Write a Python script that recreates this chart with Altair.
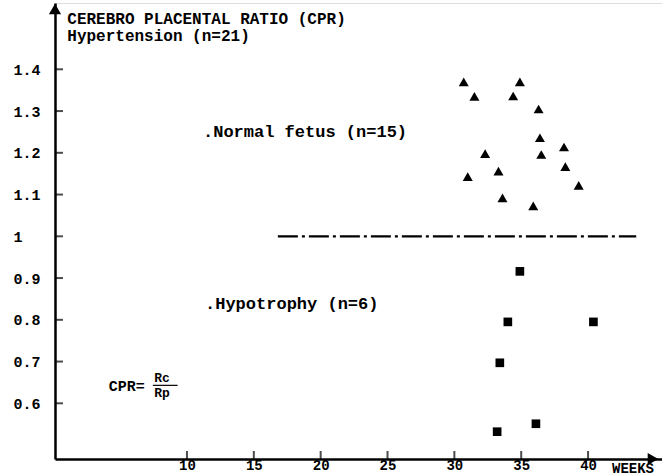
import altair as alt
import pandas as pd

# ---- data ----
normal_weeks = [30.7, 31.5, 34.9, 34.4, 36.3, 36.4, 38.2, 32.3, 36.5, 38.3, 33.3, 31.0, 39.3, 33.6, 35.9]
normal_cpr = [1.37, 1.335, 1.37, 1.336, 1.305, 1.236, 1.214, 1.198, 1.196, 1.167, 1.156, 1.143, 1.122, 1.092, 1.073]
hypo_weeks = [34.9, 34.0, 40.4, 33.4, 36.1, 33.2]
hypo_cpr = [0.916, 0.795, 0.795, 0.697, 0.551, 0.532]
ref_line_weeks = [16.8, 43.6]
ref_line_cpr = [1.0, 1.0]
y_ticks = [0.6, 0.7, 0.8, 0.9, 1.0, 1.1, 1.2, 1.3, 1.4]
x_ticks = [10, 15, 20, 25, 30, 35, 40]

X_DOM = [0.13, 45.53]
Y_DOM = [0.4666, 1.5588]

FONT = "Liberation Mono"
MARK_COLOR = "black"

xs = alt.Scale(domain=X_DOM, nice=False, zero=False)
ys = alt.Scale(domain=Y_DOM, nice=False, zero=False)

base_x_axis = alt.Axis(values=x_ticks, domainColor="black", domainWidth=2.5, ticks=False,
                       labelFont=FONT, labelFontWeight="bold", labelFontSize=14,
                       labelColor="black", labelPadding=6, labelBaseline="middle",
                       grid=False, title=None, labelFlush=False)
base_y_axis = alt.Axis(values=y_ticks, domainColor="black", domainWidth=2.5, ticks=False,
                       labelFont=FONT, labelFontWeight="bold", labelFontSize=15,
                       labelColor="black", labelAlign="left", labelPadding=42,
                       grid=False, title=None,
                       labelExpr="datum.value == 1 ? '1' : format(datum.value, '.1f')")

normal_df = pd.DataFrame({"week": normal_weeks, "cpr": normal_cpr})
hypo_df = pd.DataFrame({"week": hypo_weeks, "cpr": hypo_cpr})
line_df = pd.DataFrame({"week": ref_line_weeks, "cpr": ref_line_cpr})

axes_layer = alt.Chart(normal_df).mark_point(opacity=0).encode(
    x=alt.X("week:Q", scale=xs, axis=base_x_axis),
    y=alt.Y("cpr:Q", scale=ys, axis=base_y_axis),
)

tri = alt.Chart(normal_df).mark_point(shape="triangle-up", filled=True, color="black",
                                      size=100, opacity=1).encode(
    x=alt.X("week:Q", scale=xs), y=alt.Y("cpr:Q", scale=ys))

sq = alt.Chart(hypo_df).mark_square(color="black", size=75, opacity=1).encode(
    x=alt.X("week:Q", scale=xs), y=alt.Y("cpr:Q", scale=ys))

dash = alt.Chart(line_df).mark_line(color="black", strokeWidth=2.2,
                                    strokeDash=[20, 4, 3, 4]).encode(
    x=alt.X("week:Q", scale=xs), y=alt.Y("cpr:Q", scale=ys))

# inward tick marks
yt_df = pd.DataFrame({"v": y_ticks})
ytick = alt.Chart(yt_df).mark_tick(color=MARK_COLOR, thickness=2, size=8, orient="horizontal").encode(
    y=alt.Y("v:Q", scale=ys), x=alt.value(4))
xt_df = pd.DataFrame({"v": x_ticks})
xtick = alt.Chart(xt_df).mark_tick(color=MARK_COLOR, thickness=2, size=8, orient="vertical").encode(
    x=alt.X("v:Q", scale=xs), y=alt.value(452))

# axis arrow heads (pixel positions at the ends of the two axes)
arrow_up = alt.Chart(pd.DataFrame({"a": [1]})).mark_point(
    shape="triangle-up", filled=True, color=MARK_COLOR, size=150, opacity=1).encode(
    x=alt.value(0), y=alt.value(6))
arrow_right = alt.Chart(pd.DataFrame({"a": [2]})).mark_point(
    shape="triangle-right", filled=True, color=MARK_COLOR, size=150, opacity=1).encode(
    x=alt.value(598), y=alt.value(456))

# annotations
labels = ["CEREBRO PLACENTAL RATIO (CPR)", "Hypertension (n=21)", ".Normal fetus (n=15)",
          ".Hypotrophy (n=6)", "CPR=", "Rc", "Rp"]
lab_x = [1.05, 1.05, 11.2, 11.35, 4.15, 7.55, 7.55]
lab_y = [1.520, 1.480, 1.250, 0.838, 0.642, 0.661, 0.624]
lab_size = [16, 16, 17, 17, 15, 13, 13]
lab_df = pd.DataFrame({"week": lab_x, "cpr": lab_y, "t": labels, "s": lab_size})
texts = alt.Chart(lab_df).mark_text(font=FONT, fontWeight="bold", align="left",
                                    baseline="middle", color="black").encode(
    x=alt.X("week:Q", scale=xs), y=alt.Y("cpr:Q", scale=ys), text="t:N",
    size=alt.Size("s:Q", scale=None, legend=None))

frac_df = pd.DataFrame({"week": [7.45], "week2": [9.3], "cpr": [0.643]})
frac = alt.Chart(frac_df).mark_rule(color="black", strokeWidth=1.2).encode(
    x=alt.X("week:Q", scale=xs), x2="week2:Q", y=alt.Y("cpr:Q", scale=ys))

weeks_df = pd.DataFrame({"t": ["WEEKS"]})
weeks_lab = alt.Chart(weeks_df).mark_text(font=FONT, fontWeight="bold", fontSize=14, align="left",
                                          baseline="middle", color="black").encode(
    text="t:N", x=alt.value(557), y=alt.value(466))

chart = alt.layer(axes_layer, dash, tri, sq, ytick, xtick, arrow_up, arrow_right,
                  texts, frac, weeks_lab).properties(
    width=607, height=456,
    autosize=alt.AutoSizeParams(type="none"),
    padding={"left": 55, "top": 3, "right": 0, "bottom": 16},
).configure_view(stroke=None).configure(background="white")

chart.save("out.html", embed_options={"renderer": "svg", "actions": False})
